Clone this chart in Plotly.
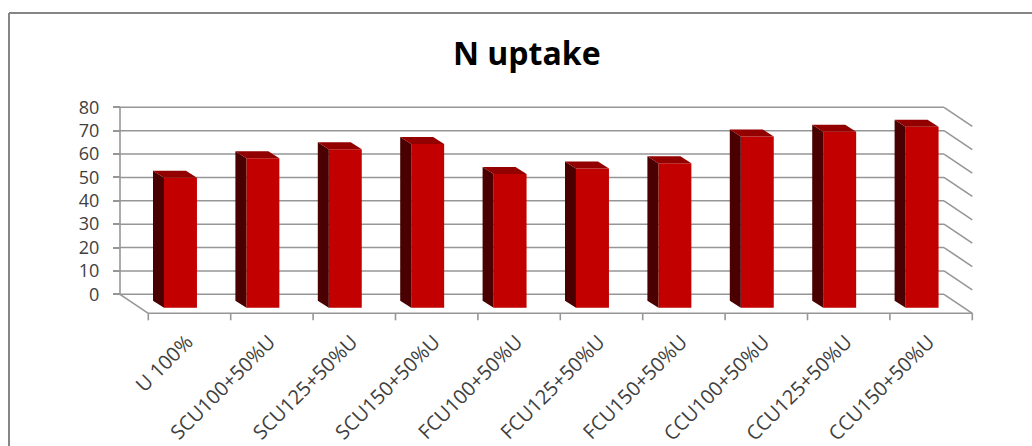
import plotly.graph_objects as go

categories = ["U 100%", "SCU100+50%U", "SCU125+50%U", "SCU150+50%U", "FCU100+50%U",
              "FCU125+50%U", "FCU150+50%U", "CCU100+50%U", "CCU125+50%U", "CCU150+50%U"]
n_uptake = [55.6, 63.9, 67.8, 70.0, 57.2, 59.6, 61.8, 73.2, 75.3, 77.4]
y_ticks = [0, 10, 20, 30, 40, 50, 60, 70, 80]
title_text = "N uptake"

W, H = 1032, 446
PX_X = 82.4          # px per category
PX_Y = 2.3375        # px per value unit
X0_PX = 120          # back wall left edge (px)
Y0_PX = 294.3        # back wall value 0 (px)
DX = 28.3 / PX_X     # floor depth, x units
DY = 19.0 / PX_Y     # floor depth, y units
BAR_W = 0.4
BAR_OFF = 0.534
BAR_BASE = -5.73
BDX = 11 / PX_X
BDY = 7 / PX_Y
LABEL_SHIFT = -0.03

dom_x_px = (100, 1000)
dom_y_px = (95, 330)
x_range = [(dom_x_px[0] - X0_PX) / PX_X, (dom_x_px[1] - X0_PX) / PX_X]
y_range = [(Y0_PX - dom_y_px[1]) / PX_Y, (Y0_PX - dom_y_px[0]) / PX_Y]
ncat = len(categories)

FRONT = "#C20000"
TOP = "#930000"
SIDE = "#4A0000"
GRID = "#969696"
TXT = "#404040"

side_x, side_y, top_x, top_y = [], [], [], []
for k, v in enumerate(n_uptake):
    xl = k + BAR_OFF
    xr = xl + BAR_W
    b = BAR_BASE
    t = b + v
    side_x += [xl, xl, xl - BDX, xl - BDX, xl, None]
    side_y += [b, t, t + BDY, b + BDY, b, None]
    top_x += [xl, xr, xr - BDX, xl - BDX, xl, None]
    top_y += [t, t, t + BDY, t + BDY, t, None]

fig = go.Figure()
fig.add_trace(go.Bar(
    x=[k + BAR_OFF + BAR_W / 2 for k in range(ncat)],
    y=n_uptake, base=BAR_BASE, width=BAR_W,
    marker=dict(color=FRONT, line=dict(width=0)),
    hoverinfo="skip", showlegend=False))
fig.add_trace(go.Scatter(x=side_x, y=side_y, fill="toself", fillcolor=SIDE,
                         mode="lines", line=dict(width=0, color=SIDE),
                         hoverinfo="skip", showlegend=False))
fig.add_trace(go.Scatter(x=top_x, y=top_y, fill="toself", fillcolor=TOP,
                         mode="lines", line=dict(width=0, color=TOP),
                         hoverinfo="skip", showlegend=False))

shapes = []
lw = 1.6
for v in y_ticks:
    shapes.append(dict(type="line", xref="x", yref="y", x0=0, y0=v, x1=ncat, y1=v,
                       line=dict(color=GRID, width=lw), layer="below"))
    shapes.append(dict(type="line", xref="x", yref="y", x0=ncat, y0=v, x1=ncat + DX, y1=v - DY,
                       line=dict(color=GRID, width=lw), layer="below"))
# left wall edge
shapes.append(dict(type="line", xref="x", yref="y", x0=0, y0=0, x1=0, y1=y_ticks[-1],
                   line=dict(color=GRID, width=lw), layer="below"))
# left floor edge
shapes.append(dict(type="line", xref="x", yref="y", x0=0, y0=0, x1=DX, y1=-DY,
                   line=dict(color=GRID, width=lw), layer="below"))
# front floor edge
shapes.append(dict(type="line", xref="x", yref="y", x0=DX, y0=-DY, x1=ncat + DX, y1=-DY,
                   line=dict(color=GRID, width=lw), layer="below"))
# category tick marks
for k in range(ncat + 1):
    shapes.append(dict(type="line", xref="x", yref="y", x0=k + DX, y0=-DY, x1=k + DX,
                       y1=-DY - 7 / PX_Y, line=dict(color=GRID, width=lw), layer="below"))
# chart border (left and top visible)
bx = 9 / W
by = 1 - 13 / H
shapes.append(dict(type="line", xref="paper", yref="paper", x0=bx, y0=-0.1, x1=bx, y1=by,
                   line=dict(color="#868686", width=2)))
shapes.append(dict(type="line", xref="paper", yref="paper", x0=bx, y0=by, x1=1.1, y1=by,
                   line=dict(color="#868686", width=2)))

fig.update_layout(
    width=W, height=H,
    margin=dict(l=0, r=0, t=0, b=0),
    paper_bgcolor="white", plot_bgcolor="rgba(0,0,0,0)",
    font=dict(family="Open Sans", color=TXT, size=19),
    showlegend=False,
    shapes=shapes,
    xaxis=dict(domain=[dom_x_px[0] / W, dom_x_px[1] / W], range=x_range,
               anchor="free", position=1 - 313.3 / H,
               tickmode="array", tickvals=[k + 0.5 + DX + LABEL_SHIFT for k in range(ncat)],
               ticktext=categories, tickangle=-45, ticks="", ticklabelstandoff=12,
               showgrid=False, zeroline=False, showline=False,
               tickfont=dict(size=20, color=TXT)),
    yaxis=dict(domain=[1 - dom_y_px[1] / H, 1 - dom_y_px[0] / H], range=y_range,
               anchor="free", position=X0_PX / W,
               tickmode="array", tickvals=y_ticks, ticks="outside", ticklen=7,
               tickcolor=GRID, tickwidth=lw, ticklabelstandoff=10,
               showgrid=False, zeroline=False, showline=False,
               tickfont=dict(size=18, color=TXT)),
    annotations=[dict(text="<b>" + title_text + "</b>", xref="paper", yref="paper",
                      x=526.7 / W, y=1 - 52 / H, xanchor="center", yanchor="middle",
                      showarrow=False, font=dict(family="Open Sans", size=32, color="black"))],
)

fig.write_html("out.html")
